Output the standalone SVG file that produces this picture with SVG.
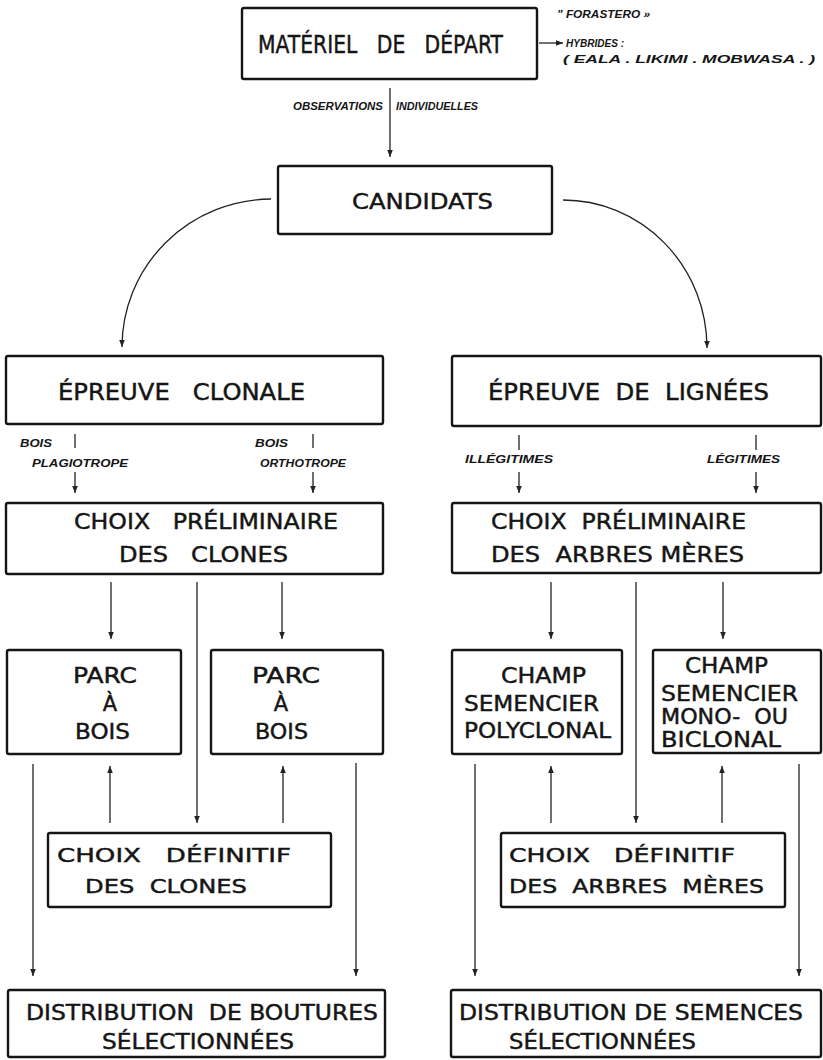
<svg xmlns="http://www.w3.org/2000/svg" width="823" height="1060" viewBox="0 0 823 1060" xml:space="preserve">
<style>
.box{fill:#fff;stroke:#151515;stroke-width:2.4}
.t{font-family:"DejaVu Sans","Liberation Sans",sans-serif;fill:#151515;stroke:#151515;stroke-width:0.45;white-space:pre}
.s{font-family:"Liberation Sans","DejaVu Sans",sans-serif;font-weight:bold;font-style:italic;font-size:11px;fill:#151515;white-space:pre}
.c{stroke:#222;stroke-width:1.3;fill:none}
.a{marker-end:url(#ah)}
</style>
<defs>
<marker id="ah" viewBox="0 0 10 10" refX="10" refY="5" markerWidth="9" markerHeight="7" orient="auto" markerUnits="userSpaceOnUse"><path d="M0,1 L10,5 L0,9 z" fill="#222"/></marker>
</defs>
<rect width="823" height="1060" fill="#fff"/>

<g id="connectors">
<line class="c a" x1="539" y1="43" x2="563" y2="43"/>
<line class="c a" x1="390" y1="88" x2="390" y2="157"/>
<path class="c a" d="M271,199 A150,148 0 0 0 122,347"/>
<path class="c a" d="M563,200 A144,148 0 0 1 707,348"/>
<line class="c" x1="75" y1="434" x2="75" y2="448"/>
<line class="c a" x1="75" y1="472" x2="75" y2="493"/>
<line class="c" x1="313" y1="434" x2="313" y2="448"/>
<line class="c a" x1="313" y1="472" x2="313" y2="493"/>
<line class="c" x1="519" y1="435" x2="519" y2="450"/>
<line class="c a" x1="519" y1="472" x2="519" y2="493"/>
<line class="c" x1="756" y1="435" x2="756" y2="450"/>
<line class="c a" x1="756" y1="472" x2="756" y2="493"/>
<line class="c a" x1="111" y1="582" x2="111" y2="639"/>
<line class="c a" x1="282" y1="582" x2="282" y2="639"/>
<line class="c a" x1="551" y1="582" x2="551" y2="639"/>
<line class="c a" x1="723" y1="582" x2="723" y2="639"/>
<line class="c a" x1="197" y1="582" x2="197" y2="823"/>
<line class="c a" x1="636" y1="582" x2="636" y2="823"/>
<line class="c a" x1="110" y1="823" x2="110" y2="766"/>
<line class="c a" x1="283" y1="823" x2="283" y2="766"/>
<line class="c a" x1="551" y1="823" x2="551" y2="766"/>
<line class="c a" x1="722" y1="823" x2="722" y2="766"/>
<line class="c a" x1="33" y1="764" x2="33" y2="976"/>
<line class="c a" x1="356" y1="763" x2="356" y2="976"/>
<line class="c a" x1="475" y1="764" x2="475" y2="976"/>
<line class="c a" x1="799" y1="764" x2="799" y2="976"/>
</g>

<g id="conn-labels">
<text class="s" x="293" y="110" textLength="90" lengthAdjust="spacingAndGlyphs">OBSERVATIONS</text>
<text class="s" x="396" y="110" textLength="82" lengthAdjust="spacingAndGlyphs">INDIVIDUELLES</text>
<text class="s" x="20" y="447" textLength="32" lengthAdjust="spacingAndGlyphs">BOIS</text>
<text class="s" x="32" y="467" textLength="96" lengthAdjust="spacingAndGlyphs">PLAGIOTROPE</text>
<text class="s" x="255" y="447" textLength="33" lengthAdjust="spacingAndGlyphs">BOIS</text>
<text class="s" x="260" y="467" textLength="86" lengthAdjust="spacingAndGlyphs">ORTHOTROPE</text>
<text class="s" x="465" y="463" textLength="88" lengthAdjust="spacingAndGlyphs">ILLÉGITIMES</text>
<text class="s" x="707" y="463" textLength="73" lengthAdjust="spacingAndGlyphs">LÉGITIMES</text>
</g>

<g id="materiel">
<rect class="box" x="242" y="8" width="295" height="71" rx="2"/>
<text class="t" x="258" y="53" font-size="24" textLength="245" lengthAdjust="spacingAndGlyphs">MATÉRIEL   DE   DÉPART</text>
</g>
<g id="origine">
<text class="s" x="557" y="18" textLength="93" lengthAdjust="spacingAndGlyphs">" FORASTERO »</text>
<text class="s" x="566" y="47" textLength="58" lengthAdjust="spacingAndGlyphs">HYBRIDES :</text>
<text class="s" x="563" y="63" textLength="252" lengthAdjust="spacingAndGlyphs">( EALA . LIKIMI . MOBWASA . )</text>
</g>
<g id="candidats">
<rect class="box" x="278" y="166" width="274" height="68" rx="2"/>
<text class="t" x="352" y="209" font-size="22" textLength="141" lengthAdjust="spacingAndGlyphs">CANDIDATS</text>
</g>
<g id="epreuve-clonale">
<rect class="box" x="6" y="356" width="377" height="68" rx="2"/>
<text class="t" x="58" y="400" font-size="23" textLength="247" lengthAdjust="spacingAndGlyphs">ÉPREUVE   CLONALE</text>
</g>
<g id="epreuve-lignees">
<rect class="box" x="452" y="356" width="369" height="70" rx="2"/>
<text class="t" x="488" y="400" font-size="23" textLength="281" lengthAdjust="spacingAndGlyphs">ÉPREUVE  DE  LIGNÉES</text>
</g>
<g id="choix-prelim-clones">
<rect class="box" x="6" y="503" width="377" height="71" rx="2"/>
<text class="t" x="74" y="529" font-size="22" textLength="264" lengthAdjust="spacingAndGlyphs">CHOIX   PRÉLIMINAIRE</text>
<text class="t" x="119" y="562" font-size="22" textLength="169" lengthAdjust="spacingAndGlyphs">DES   CLONES</text>
</g>
<g id="choix-prelim-arbres">
<rect class="box" x="452" y="503" width="369" height="70" rx="2"/>
<text class="t" x="491" y="529" font-size="22" textLength="255" lengthAdjust="spacingAndGlyphs">CHOIX  PRÉLIMINAIRE</text>
<text class="t" x="491" y="562" font-size="22" textLength="253" lengthAdjust="spacingAndGlyphs">DES  ARBRES MÈRES</text>
</g>
<g id="parc-1">
<rect class="box" x="7" y="650" width="174" height="104" rx="2"/>
<text class="t" x="73" y="683" font-size="21" textLength="64" lengthAdjust="spacingAndGlyphs">PARC</text>
<text class="t" x="110" y="711" font-size="21" text-anchor="middle">À</text>
<text class="t" x="75" y="739" font-size="21" textLength="55" lengthAdjust="spacingAndGlyphs">BOIS</text>
</g>
<g id="parc-2">
<rect class="box" x="211" y="650" width="172" height="104" rx="2"/>
<text class="t" x="252" y="683" font-size="21" textLength="68" lengthAdjust="spacingAndGlyphs">PARC</text>
<text class="t" x="281" y="711" font-size="21" text-anchor="middle">À</text>
<text class="t" x="255" y="739" font-size="21" textLength="53" lengthAdjust="spacingAndGlyphs">BOIS</text>
</g>
<g id="champ-poly">
<rect class="box" x="452" y="650" width="170" height="104" rx="2"/>
<text class="t" x="501" y="683" font-size="21" textLength="85" lengthAdjust="spacingAndGlyphs">CHAMP</text>
<text class="t" x="464" y="711" font-size="21" textLength="135" lengthAdjust="spacingAndGlyphs">SEMENCIER</text>
<text class="t" x="464" y="738" font-size="21" textLength="147" lengthAdjust="spacingAndGlyphs">POLYCLONAL</text>
</g>
<g id="champ-mono">
<rect class="box" x="653" y="650" width="168" height="103" rx="2"/>
<text class="t" x="685" y="673" font-size="21" textLength="83" lengthAdjust="spacingAndGlyphs">CHAMP</text>
<text class="t" x="661" y="701" font-size="21" textLength="137" lengthAdjust="spacingAndGlyphs">SEMENCIER</text>
<text class="t" x="661" y="724" font-size="21" textLength="127" lengthAdjust="spacingAndGlyphs">MONO-  OU</text>
<text class="t" x="661" y="747" font-size="21" textLength="120" lengthAdjust="spacingAndGlyphs">BICLONAL</text>
</g>
<g id="choix-def-clones">
<rect class="box" x="48" y="833" width="283" height="74" rx="2"/>
<text class="t" x="57" y="862" font-size="20" textLength="234" lengthAdjust="spacingAndGlyphs">CHOIX   DÉFINITIF</text>
<text class="t" x="85" y="893" font-size="20" textLength="162" lengthAdjust="spacingAndGlyphs">DES  CLONES</text>
</g>
<g id="choix-def-arbres">
<rect class="box" x="501" y="833" width="284" height="74" rx="2"/>
<text class="t" x="509" y="862" font-size="20" textLength="226" lengthAdjust="spacingAndGlyphs">CHOIX   DÉFINITIF</text>
<text class="t" x="509" y="893" font-size="20" textLength="255" lengthAdjust="spacingAndGlyphs">DES  ARBRES  MÈRES</text>
</g>
<g id="distrib-boutures">
<rect class="box" x="8" y="990" width="377" height="67" rx="2"/>
<text class="t" x="26" y="1020" font-size="21" textLength="352" lengthAdjust="spacingAndGlyphs">DISTRIBUTION  DE BOUTURES</text>
<text class="t" x="102" y="1049" font-size="21" textLength="192" lengthAdjust="spacingAndGlyphs">SÉLECTIONNÉES</text>
</g>
<g id="distrib-semences">
<rect class="box" x="451" y="990" width="370" height="67" rx="2"/>
<text class="t" x="459" y="1020" font-size="21" textLength="344" lengthAdjust="spacingAndGlyphs">DISTRIBUTION DE SEMENCES</text>
<text class="t" x="509" y="1049" font-size="21" textLength="187" lengthAdjust="spacingAndGlyphs">SÉLECTIONNÉES</text>
</g>
</svg>
